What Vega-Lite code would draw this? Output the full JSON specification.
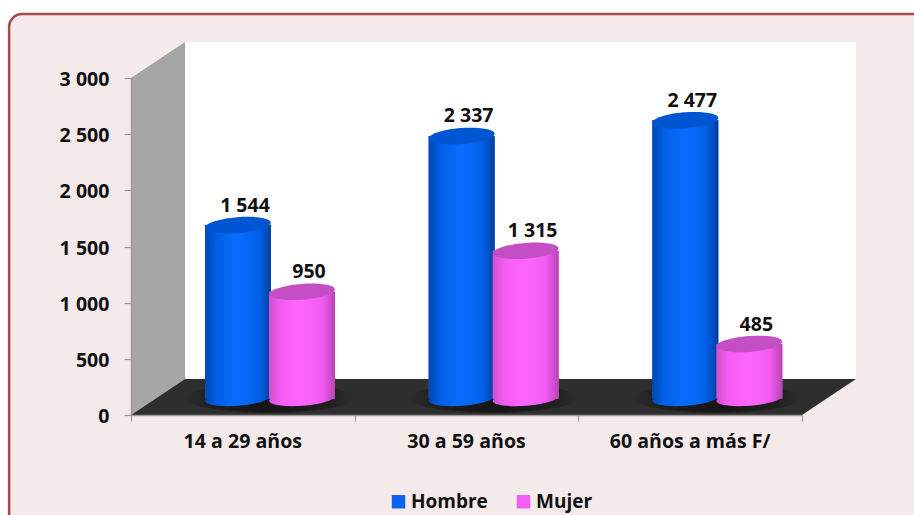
{
"$schema":"https://vega.github.io/schema/vega-lite/v6.json",
"width":671,"height":337,
"autosize":{"type":"none"},
"padding":{"left":131,"top":78,"right":112,"bottom":100},
"background":"#ffffff",
"config":{"view":{"stroke":null},"font":"Open Sans","locale":{"number":{"decimal":".","thousands":" ","grouping":[3],"currency":["",""]}}},
"datasets":{
"chart":[
{"grupo":"14  a 29 años","sexo":"Hombre","valor":1544},
{"grupo":"14  a 29 años","sexo":"Mujer","valor":950},
{"grupo":"30 a 59 años","sexo":"Hombre","valor":2337},
{"grupo":"30 a 59 años","sexo":"Mujer","valor":1315},
{"grupo":"60 años a más F/","sexo":"Hombre","valor":2477},
{"grupo":"60 años a más F/","sexo":"Mujer","valor":485}
],
"panel":[{"a":-0.545,"b":3.6,"low":-1100,"high":3570}],
"back":[{"a":0.2414,"b":3.2414,"low":320,"high":3320}],
"wall":[{"a":0,"low":0,"high":3000},{"a":0.2414,"low":320,"high":3320}],
"floor":[{"a":0,"low":0,"high":0},{"a":0.2414,"low":0,"high":320},{"a":3,"low":0,"high":320},{"a":3.2414,"low":320,"high":320}]
},
"resolve":{"scale":{"x":"independent"},"axis":{"x":"independent"}},
"layer":[
{"layer":[
{"data":{"name":"panel"},"mark":{"type":"rect","fill":"#f4eaea","stroke":"#a84a4c","strokeWidth":2.5,"cornerRadius":13},
"encoding":{
"x":{"field":"a","type":"quantitative","title":null,"scale":{"domain":[0,3],"nice":false,"zero":false},
"axis":{"values":[0,1,2,3],"labels":false,"title":null,"grid":false,"domainColor":"#9a9a9a","domainWidth":1.5,"tickColor":"#9a9a9a","tickWidth":1.2,"tickSize":6,"zindex":1}},
"x2":{"field":"b"},
"y":{"field":"low","type":"quantitative","title":null,"scale":{"domain":[0,3000],"nice":false,"zero":false},
"axis":{"values":[0,500,1000,1500,2000,2500,3000],"format":",.0f","title":null,"grid":false,"domainColor":"#9a9a9a","domainWidth":1.5,"tickColor":"#9a9a9a","tickWidth":1.2,"tickSize":7,"labelFont":"Open Sans","labelFontWeight":"bold","labelFontSize":19.6,"labelColor":"#111111","labelPadding":15,"labelOffset":1.5,"zindex":1}},
"y2":{"field":"high"}}},
{"data":{"name":"back"},"mark":{"type":"rect","fill":"#ffffff"},
"encoding":{"x":{"field":"a","type":"quantitative"},"x2":{"field":"b"},"y":{"field":"low","type":"quantitative"},"y2":{"field":"high"}}},
{"data":{"name":"wall"},"mark":{"type":"area","orient":"vertical","fill":"#a6a6a6"},
"encoding":{"x":{"field":"a","type":"quantitative"},"y":{"field":"low","type":"quantitative"},"y2":{"field":"high"}}},
{"data":{"name":"floor"},"mark":{"type":"area","orient":"vertical","fill":"#2e2e2e"},
"encoding":{"x":{"field":"a","type":"quantitative"},"y":{"field":"low","type":"quantitative"},"y2":{"field":"high"}}}
]},
{"data":{"name":"chart"},
"encoding":{
"x":{"field":"grupo","type":"nominal","title":null,"sort":null,"scale":{"paddingInner":0,"paddingOuter":0},
"axis":{"orient":"bottom","labelAngle":0,"domain":false,"ticks":false,"title":null,"labelFont":"Open Sans","labelFontWeight":"bold","labelFontSize":19.6,"labelColor":"#111111","labelPadding":17,"zindex":1}},
"xOffset":{"field":"sexo","type":"nominal","scale":{"domain":["Hombre","Mujer"],"paddingInner":0,"paddingOuter":0.747,"align":0.784}}
},
"layer":[
{"transform":[{"filter":"datum.sexo==='Hombre'"}],"mark":{"type":"point","shape":"M-1 0A1 0.17 0 1 1 1 0A1 0.17 0 1 1 -1 0Z","filled":true,"opacity":1,"size":28900,"xOffset":27,"yOffset":-17,"strokeWidth":0,
"fill":{"gradient":"radial","stops":[{"offset":0,"color":"rgba(10,10,10,0.7)"},{"offset":0.7,"color":"rgba(10,10,10,0.4)"},{"offset":1,"color":"rgba(10,10,10,0)"}]}},
"encoding":{"xOffset":null,"y":{"datum":0,"type":"quantitative"}}},
{"mark":{"type":"bar","width":66,"yOffset":-16.5,"y2Offset":-16.5},
"encoding":{"y":{"field":"valor","type":"quantitative","stack":null},"y2":{"datum":0},
"color":{"field":"sexo","type":"nominal","scale":{"domain":["Hombre","Mujer"],"range":["#0a63f0","#f45cf4"]},
"legend":{"title":null,"orient":"none","legendX":258,"legendY":414,"direction":"horizontal","symbolType":"square","symbolSize":180,"symbolStrokeWidth":0,"labelFont":"Open Sans","labelFontWeight":"bold","labelFontSize":19,"labelColor":"#111111","labelOffset":3,"columnPadding":26}}}},
{"transform":[{"filter":"datum.sexo==='Hombre'"}],"layer":[
{"mark":{"type":"point","shape":"M-0.997 0.078A1 0.22 -4.5 1 1 0.997 -0.078A1 0.22 -4.5 1 1 -0.997 0.078Z","filled":true,"opacity":1,"size":4356,"yOffset":-16.5,"strokeWidth":0,
"fill":{"gradient":"linear","x1":0,"x2":1,"y1":0,"y2":0,"stops":[{"offset":0,"color":"#0048b4"},{"offset":0.18,"color":"#0060e6"},{"offset":0.5,"color":"#0a6cff"},{"offset":0.82,"color":"#0060e6"},{"offset":1,"color":"#003f9f"}]}},
"encoding":{"y":{"datum":0,"type":"quantitative"}}},
{"mark":{"type":"bar","width":66,"yOffset":-16.5,"y2Offset":-16.5,
"fill":{"gradient":"linear","x1":0,"x2":1,"y1":0,"y2":0,"stops":[{"offset":0,"color":"#0048b4"},{"offset":0.18,"color":"#0060e6"},{"offset":0.5,"color":"#0a6cff"},{"offset":0.82,"color":"#0060e6"},{"offset":1,"color":"#003f9f"}]}},
"encoding":{"y":{"field":"valor","type":"quantitative","stack":null},"y2":{"datum":0}}},
{"mark":{"type":"point","shape":"M-0.997 0.078A1 0.24 -4.5 1 1 0.997 -0.078A1 0.24 -4.5 1 1 -0.997 0.078Z","filled":true,"opacity":1,"size":4356,"yOffset":-16.5,"strokeWidth":0,"fill":"#0056d2"},
"encoding":{"y":{"field":"valor","type":"quantitative"}}}
]},
{"transform":[{"filter":"datum.sexo==='Mujer'"}],"layer":[
{"mark":{"type":"point","shape":"M-0.997 0.078A1 0.22 -4.5 1 1 0.997 -0.078A1 0.22 -4.5 1 1 -0.997 0.078Z","filled":true,"opacity":1,"size":4356,"yOffset":-16.5,"strokeWidth":0,
"fill":{"gradient":"linear","x1":0,"x2":1,"y1":0,"y2":0,"stops":[{"offset":0,"color":"#d050d0"},{"offset":0.18,"color":"#f45cf4"},{"offset":0.5,"color":"#ff66ff"},{"offset":0.82,"color":"#f05af0"},{"offset":1,"color":"#b844b4"}]}},
"encoding":{"y":{"datum":0,"type":"quantitative"}}},
{"mark":{"type":"bar","width":66,"yOffset":-16.5,"y2Offset":-16.5,
"fill":{"gradient":"linear","x1":0,"x2":1,"y1":0,"y2":0,"stops":[{"offset":0,"color":"#d050d0"},{"offset":0.18,"color":"#f45cf4"},{"offset":0.5,"color":"#ff66ff"},{"offset":0.82,"color":"#f05af0"},{"offset":1,"color":"#b844b4"}]}},
"encoding":{"y":{"field":"valor","type":"quantitative","stack":null},"y2":{"datum":0}}},
{"mark":{"type":"point","shape":"M-0.997 0.078A1 0.24 -4.5 1 1 0.997 -0.078A1 0.24 -4.5 1 1 -0.997 0.078Z","filled":true,"opacity":1,"size":4356,"yOffset":-16.5,"strokeWidth":0,"fill":"#c44fc4"},
"encoding":{"y":{"field":"valor","type":"quantitative"}}}
]},
{"mark":{"type":"text","font":"Open Sans","fontWeight":"bold","fontSize":19.5,"color":"#111111","dx":7,"yOffset":-36,"baseline":"middle"},
"encoding":{"y":{"field":"valor","type":"quantitative"},"text":{"field":"valor","type":"quantitative","format":","}}}
]}
]}
